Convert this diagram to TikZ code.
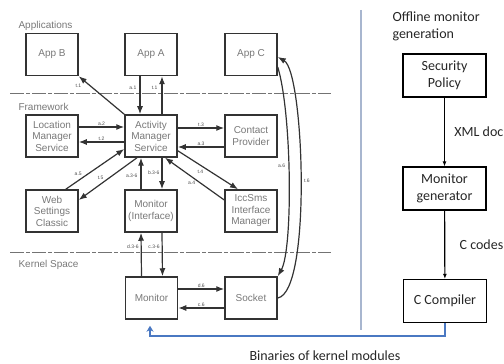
\documentclass[tikz,border=0pt]{standalone}
\usepackage{fontspec}
\setmainfont{Liberation Sans}
\newfontfamily\calib{Carlito}
\usetikzlibrary{arrows.meta,positioning,calc}
\definecolor{boxline}{HTML}{333333}
\definecolor{boxtext}{HTML}{787878}
\definecolor{flowblue}{HTML}{4A78C2}
\definecolor{sepblue}{HTML}{A8B6CF}
\tikzset{
  >={Latex[length=8pt,width=6pt]},
  % android side
  comp/.style={draw=boxline,line width=1.5pt,minimum width=52pt,minimum height=42pt,
               inner sep=1pt,align=center,text=boxtext,font=\fontsize{10}{11.5}\selectfont},
  call/.style={->,draw=boxline,line width=1.2pt},
  lbl/.style={font=\fontsize{5}{5}\selectfont,text=black!70,inner sep=1pt},
  layer/.style={draw=black!55,line width=1pt,dash pattern=on 14pt off 2pt on 4pt off 2pt},
  zone/.style={font=\fontsize{10}{12}\selectfont,text=boxtext,anchor=west},
  % offline side
  gen/.style={draw=black,line width=1.2pt,minimum width=83pt,minimum height=43pt,
              align=center,font=\calib\fontsize{14}{16.5}\selectfont,text=black!85},
  gflow/.style={-{Latex[length=5pt,width=4pt]},draw=black,line width=1.2pt},
  gtxt/.style={font=\calib\fontsize{14}{17}\selectfont,text=black!85,anchor=west,align=left},
  bin/.style={-{Stealth[length=6pt,width=7pt]},draw=flowblue,line width=1.4pt},
  sep/.style={draw=sepblue,line width=1.2pt},
}
\begin{document}
\begin{tikzpicture}[x=1pt,y=1pt]
  \useasboundingbox (0,0) rectangle (504,364);
  % layers
  \node[zone] (lapp) at (15,338) {Applications};
  \node[zone] (lfw) at (15,257) {Framework};
  \node[zone] (lker) at (15,99) {Kernel Space};
  \coordinate (s1) at (10,270); \coordinate (e1) at (331,270);
  \coordinate (s2) at (10,111); \coordinate (e2) at (331,111);
  \draw[layer] (s1) -- (e1);
  \draw[layer] (s2) -- (e2);
  % components
  \node[comp] (appB) at (52,309.5) {App B};
  \node[comp] (appA) at (151,309.5) {App A};
  \node[comp] (appC) at (251,309.5) {App C};
  \node[comp] (loc) at (52,228) {Location\\Manager\\Service};
  \node[comp] (ams) at (151,228) {Activity\\Manager\\Service};
  \node[comp] (cont) at (251,228) {Contact\\Provider};
  \node[comp] (web) at (52,153) {Web\\Settings\\Classic};
  \node[comp] (monint) at (151,153) {Monitor\\(Interface)};
  \node[comp] (icc) at (251,153) {IccSms\\Interface\\Manager};
  \node[comp] (mon) at (151.5,66) {Monitor};
  \node[comp] (sock) at (251,66) {Socket};
  % calls
  \draw[call] (ams.north west) -- node[lbl,pos=0.76,left=7pt]{t.1} (appB.south east);
  \draw[call] ([xshift=-11pt]appA.south) -- node[lbl,pos=0.3,left=2pt]{a.1} ([xshift=-11pt]ams.north);
  \draw[call] ([xshift=11pt]ams.north) -- node[lbl,pos=0.7,left=3pt]{t.1} ([xshift=11pt]appA.south);
  \draw[call] ([yshift=9pt]loc.east) -- node[lbl,above]{a.2} ([yshift=9pt]ams.west);
  \draw[call] ([yshift=-6pt]ams.west) -- node[lbl,above]{t.2} ([yshift=-6pt]loc.east);
  \draw[call] ([yshift=8pt]ams.east) -- node[lbl,above]{t.3} ([yshift=8pt]cont.east-|cont.west);
  \draw[call] ([yshift=-11pt]cont.west) -- node[lbl,above]{a.3} ([yshift=-11pt]ams.east);
  \draw[call] ([xshift=-13pt]web.north east) -- node[lbl,pos=0.3,above left=0pt]{a.5} ([yshift=-13pt]ams.west);
  \draw[call] ([xshift=-14pt]ams.south) -- node[lbl,pos=0.55,above left=0pt]{t.5} ([yshift=11pt]web.east);
  \draw[call] ([xshift=-10pt]monint.north) -- node[lbl,pos=0.42,left=2pt]{a.3-6} ([xshift=-10pt]ams.south);
  \draw[call] ([xshift=11pt]ams.south) -- node[lbl,pos=0.48,left=1pt]{b.3-6} ([xshift=11pt]monint.north);
  \draw[call] ([yshift=7pt]ams.south east) -- node[lbl,pos=0.45,below left=0pt]{t.4} ([xshift=-13pt]icc.north);
  \draw[call] ([yshift=11pt]icc.west) -- node[lbl,pos=0.55,below=3pt]{a.4} ([xshift=14pt]ams.south);
  \draw[call] ([xshift=-10pt]mon.north) -- node[lbl,pos=0.67,left=1pt]{d.3-6} ([xshift=-10pt]monint.south);
  \draw[call] ([xshift=11pt]monint.south) -- node[lbl,pos=0.33,left=1pt]{c.3-6} ([xshift=11pt]mon.north);
  \draw[call] ([yshift=9pt]mon.east) -- node[lbl,above]{d.6} ([yshift=9pt]sock.west);
  \draw[call] ([yshift=-10pt]sock.west) -- node[lbl,above]{c.6} ([yshift=-10pt]mon.east);
  \draw[call] ([yshift=-12.5pt]appC.east) .. controls (292,250) and (293,115) .. node[lbl,pos=0.45,left=2pt]{a.6} (sock.north east);
  \draw[call] (sock.east) .. controls (312,72) and (304,292) .. node[lbl,pos=0.5,right=2pt]{t.6} ([yshift=-2.5pt]appC.east);
  % offline generation
  \coordinate (sepT) at (361,354); \coordinate (sepB) at (361,34);
  \draw[sep] (sepT) -- (sepB);
  \node[gtxt] (tgen) at (389,337.5) {Offline monitor\\generation};
  \node[gen] (pol) at (444.5,288.5) {Security\\Policy};
  \node[gen] (mgen) at (444.5,175.5) {Monitor\\generator};
  \node[gen] (ccomp) at (445,63) {C Compiler};
  \draw[gflow] (pol) -- node[gtxt,pos=0.5,right=6pt]{XML document} (mgen);
  \draw[gflow] (mgen) -- node[gtxt,pos=0.5,right=11pt]{C codes} (ccomp);
  \draw[bin] (ccomp.south) -- ++(0,-13) -| ([xshift=-1.5pt,yshift=-6pt]mon.south);
  \node[gtxt] (tbin) at (246,8) {Binaries of kernel modules};
\end{tikzpicture}
\end{document}
